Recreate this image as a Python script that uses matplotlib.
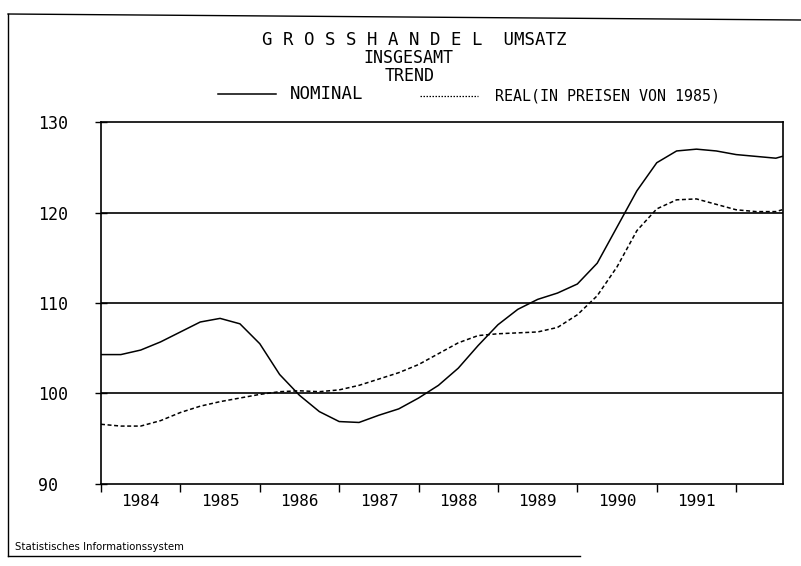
import matplotlib
matplotlib.use("Agg")
import matplotlib.pyplot as plt
from matplotlib.lines import Line2D

# ---------------- data ----------------
years = [1984.00, 1984.25, 1984.50, 1984.75, 1985.00, 1985.25, 1985.50, 1985.75,
         1986.00, 1986.25, 1986.50, 1986.75, 1987.00, 1987.25, 1987.50, 1987.75,
         1988.00, 1988.25, 1988.50, 1988.75, 1989.00, 1989.25, 1989.50, 1989.75,
         1990.00, 1990.25, 1990.50, 1990.75, 1991.00, 1991.25, 1991.50, 1991.75,
         1992.00, 1992.25, 1992.50, 1992.58]
nominal = [104.3, 104.3, 104.8, 105.7, 106.8, 107.9, 108.3, 107.7,
           105.5, 102.1, 99.8, 98.0, 96.9, 96.8, 97.6, 98.3,
           99.5, 100.9, 102.8, 105.3, 107.6, 109.3, 110.4, 111.1,
           112.1, 114.4, 118.4, 122.4, 125.5, 126.8, 127.0, 126.8,
           126.4, 126.2, 126.0, 126.2]
real = [96.6, 96.4, 96.4, 97.0, 97.9, 98.6, 99.1, 99.5,
        99.9, 100.2, 100.3, 100.2, 100.4, 100.9, 101.6, 102.3,
        103.2, 104.4, 105.6, 106.4, 106.6, 106.7, 106.8, 107.3,
        108.7, 110.8, 114.0, 118.0, 120.4, 121.4, 121.5, 120.9,
        120.3, 120.1, 120.1, 120.3]
year_labels = ["1984", "1985", "1986", "1987", "1988", "1989", "1990", "1991"]
y_ticks = [90, 100, 110, 120, 130]
y_labels = ["90", "100", "110", "120", "130"]

title_lines = ["G R O S S H A N D E L  UMSATZ", "INSGESAMT", "TREND"]
legend_labels = ["NOMINAL", "REAL(IN PREISEN VON 1985)"]
footer = "Statistisches Informationssystem"

MONO = "DejaVu Sans Mono"
W, H = 801, 566

fig = plt.figure(figsize=(W / 100, H / 100), dpi=100)
fig.patch.set_facecolor("white")

def fx(px):
    return px / W

def fy(py):
    return 1 - py / H

ax = fig.add_axes([fx(101), fy(484), fx(783) - fx(101), fy(122) - fy(484)])
ax.plot(years, nominal, color="black", lw=1.1, solid_joinstyle="round")
ax.plot(years, real, color="black", lw=1.1, dashes=(2.6, 1.7))

ax.set_xlim(1984.0, 1992.59)
ax.set_ylim(90, 130)

# horizontal grid lines
for v in [100, 110, 120]:
    ax.axhline(v, color="black", lw=1.2, zorder=1)

for s in ax.spines.values():
    s.set_color("black")
    s.set_linewidth(1.2)

# y ticks
ax.set_yticks(y_ticks)
ax.set_yticklabels(y_labels, fontfamily=MONO, fontsize=12)
ax.tick_params(axis="y", direction="inout", length=8, width=1.0, pad=41.5)
for lab in ax.get_yticklabels():
    lab.set_horizontalalignment("left")

# x ticks: boundaries as major ticks, labels at mid-year
ax.set_xticks(list(range(1984, 1993)))
ax.set_xticklabels([])
ax.tick_params(axis="x", which="major", direction="out", length=6, width=1.0)
ax.set_xticks([int(y) + 0.5 for y in year_labels], minor=True)
ax.set_xticklabels(year_labels, minor=True, fontfamily=MONO, fontsize=11.5)
ax.tick_params(axis="x", which="minor", length=0, pad=7)

# titles
fig.text(fx(414), fy(40), title_lines[0], ha="center", va="center",
         fontfamily=MONO, fontsize=12.5)
fig.text(fx(408), fy(58), title_lines[1], ha="center", va="center",
         fontfamily=MONO, fontsize=12)
fig.text(fx(410), fy(76), title_lines[2], ha="center", va="center",
         fontfamily=MONO, fontsize=12)

# legend
fig.add_artist(Line2D([fx(218), fx(276)], [fy(94), fy(94)], color="black", lw=1.1))
fig.text(fx(290), fy(94), legend_labels[0], ha="left", va="center",
         fontfamily=MONO, fontsize=12.5)
fig.add_artist(Line2D([fx(420), fx(478)], [fy(96), fy(96)], color="black", lw=0.9,
                      dashes=(1.2, 1.2)))
fig.text(fx(495), fy(96), legend_labels[1], ha="left", va="center",
         fontfamily=MONO, fontsize=10.8)

# page frame
fig.add_artist(Line2D([fx(8), fx(801)], [fy(14), fy(20)], color="black", lw=1.0))
fig.add_artist(Line2D([fx(8), fx(8)], [fy(14), fy(556)], color="black", lw=1.0))
fig.add_artist(Line2D([fx(8), fx(580)], [fy(556), fy(556)], color="black", lw=1.0))

fig.text(fx(15), fy(547), footer, ha="left", va="center",
         fontfamily="DejaVu Sans", fontsize=7.3)

fig.savefig("out.png", dpi=100)
